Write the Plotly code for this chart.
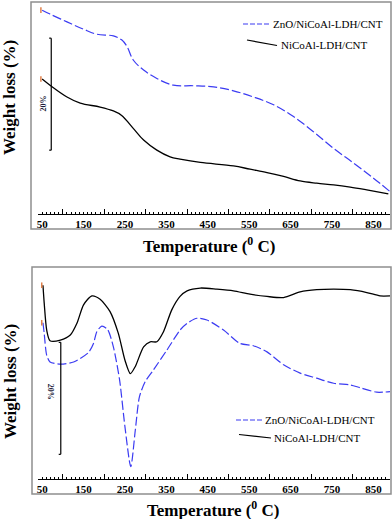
import plotly.graph_objects as go

# ---------------- data (y in % units, arbitrary offset) -------------
top_T_ncl = [50, 69, 110, 142, 190, 222, 242, 270, 295, 327, 359, 383, 432, 512, 552, 593,
             633, 673, 713, 754, 794, 834, 886]
top_W_ncl = [24.1, 23.0, 20.9, 19.8, 19.1, 18.4, 17.6, 15.3, 13.2, 11.4, 10.2, 9.8, 9.2, 8.6,
             8.0, 7.4, 6.7, 5.9, 5.5, 5.2, 4.8, 4.3, 3.6]

top_T_zno = [50, 69, 110, 150, 182, 222, 242, 255, 270, 295, 327, 367, 415, 464, 512, 560,
             609, 657, 705, 754, 802, 850, 890]
top_W_zno = [36.4, 35.7, 34.3, 33.0, 32.1, 31.8, 31.1, 29.9, 27.5, 25.7, 24.2, 23.0, 22.9,
             22.7, 22.0, 20.9, 19.5, 17.4, 14.7, 11.7, 9.1, 6.4, 4.0]

bot_T_ncl = [52, 55, 61, 69, 94, 118, 134, 150, 170, 190, 214, 234, 250, 263, 275, 295, 311,
             327, 343, 363, 383, 400, 432, 472, 512, 552, 593, 633, 673, 713, 754, 794, 834,
             866, 890]
bot_W_ncl = [34.6, 31.4, 26.6, 24.7, 24.8, 25.7, 27.8, 31.1, 32.7, 32.1, 29.9, 26.0, 21.2,
             18.8, 20.1, 23.6, 24.5, 24.5, 26.3, 30.2, 32.6, 33.6, 34.1, 33.9, 33.6, 33.0,
             32.6, 32.4, 33.4, 33.8, 33.9, 33.8, 33.3, 32.7, 32.7]

bot_T_zno = [52, 55, 61, 69, 94, 126, 162, 174, 182, 194, 208, 222, 237, 250, 264, 275, 285,
             299, 319, 351, 383, 400, 424, 448, 488, 528, 560, 593, 633, 673, 713, 754, 794,
             818, 858, 890]
bot_W_zno = [27.9, 26.0, 22.1, 20.9, 20.5, 20.9, 22.6, 24.2, 26.3, 27.3, 26.7, 23.6, 17.7,
             9.3, 2.2, 8.75, 14.7, 17.4, 19.5, 23.0, 26.6, 27.8, 28.7, 28.4, 26.6, 24.2,
             23.8, 22.7, 20.4, 18.9, 18.0, 17.1, 16.8, 16.3, 15.5, 15.6]

tick_labels = [50, 150, 250, 350, 450, 550, 650, 750, 850]
series_names = ["ZnO/NiCoAl-LDH/CNT", "NiCoAl-LDH/CNT"]
scale_label = "20%"
scale_size = 20
x_title = "Temperature (<sup>0</sup> C)"
y_title = "Weight loss (%)"

# ---------------- layout helpers ----------------
W, H = 392, 519
def PX(p):
    return p / W
def PY(p):
    return 1 - p / H

SERIF = "Liberation Serif"
BLUE = "#3b3bf2"
YR = [0, 212 / 5.6]
XR = [40, 890]

fig = go.Figure()

def add_curves(xa, ya, Tz, Wz, Tn, Wn, sm):
    fig.add_trace(go.Scatter(x=Tz, y=Wz, mode="lines", xaxis=xa, yaxis=ya,
                             line=dict(color=BLUE, width=1.2, dash="9px,3px",
                                       shape="spline", smoothing=sm),
                             showlegend=False, hoverinfo="skip"))
    fig.add_trace(go.Scatter(x=Tn, y=Wn, mode="lines", xaxis=xa, yaxis=ya,
                             line=dict(color="black", width=1.3, shape="spline",
                                       smoothing=sm),
                             showlegend=False, hoverinfo="skip"))
    # small orange start marks
    fig.add_trace(go.Scatter(x=[Tz[0] - 3, Tn[0] - 3], y=[Wz[0], Wn[0]], mode="markers",
                             xaxis=xa, yaxis=ya,
                             marker=dict(symbol="line-ns", size=4,
                                         line=dict(color="#e0804a", width=1.5)),
                             showlegend=False, hoverinfo="skip"))

add_curves("x", "y", top_T_zno, top_W_zno, top_T_ncl, top_W_ncl, 1.0)
add_curves("x2", "y2", bot_T_zno, bot_W_zno, bot_T_ncl, bot_W_ncl, 0.7)
# dummy traces so the tick-only overlay axes are drawn
fig.add_trace(go.Scatter(x=[None], y=[None], xaxis="x3", yaxis="y", showlegend=False))
fig.add_trace(go.Scatter(x=[None], y=[None], xaxis="x4", yaxis="y2", showlegend=False))

dom_x = [PX(38), PX(390)]
label_axis = dict(domain=dom_x, range=XR, tickmode="array", tickvals=tick_labels,
                  ticktext=[str(v) for v in tick_labels], ticks="", showgrid=False,
                  zeroline=False, showline=True, linecolor="black", linewidth=1,
                  tickfont=dict(family=SERIF, size=11, color="black", weight="bold"))
tick_axis = dict(range=XR, tickmode="linear", tick0=0, dtick=100, ticks="inside",
                 ticklen=5, tickwidth=1, tickcolor="black", showticklabels=False,
                 showgrid=False, zeroline=False, showline=False,
                 minor=dict(tickmode="linear", tick0=0, dtick=10, ticks="inside",
                            ticklen=2, tickwidth=1, tickcolor="black", showgrid=False))

fig.update_layout(
    width=W, height=H, margin=dict(l=0, r=0, t=0, b=0),
    paper_bgcolor="white", plot_bgcolor="rgba(0,0,0,0)",
    xaxis=dict(anchor="y", **label_axis),
    xaxis2=dict(anchor="y2", **label_axis),
    xaxis3=dict(overlaying="x", anchor="y", **tick_axis),
    xaxis4=dict(overlaying="x2", anchor="y2", **tick_axis),
    yaxis=dict(domain=[PY(214), PY(2)], range=YR, visible=False, anchor="x"),
    yaxis2=dict(domain=[PY(479), PY(267)], range=YR, visible=False, anchor="x2"),
)

shapes = []
annotations = []

# frames
for (x0, y0, x1, y1) in [(31, 2, 391, 229), (32, 267, 391, 494)]:
    shapes.append(dict(type="rect", xref="paper", yref="paper", x0=PX(x0), x1=PX(x1),
                       y0=PY(y1), y1=PY(y0), line=dict(color="#8f8f8f", width=1.5)))

# scale bars (20 % of weight)
for xa, ya, xb, ytop, ang, lx, ly in [("x", "y", 72, 31.4, -90, 53, 19.8),
                                      ("x2", "y2", 95, 24.4, 90, 69, 15.6)]:
    ybot = ytop - scale_size
    shapes.append(dict(type="line", xref=xa, yref=ya, x0=xb, x1=xb, y0=ybot, y1=ytop,
                       line=dict(color="black", width=1.2)))
    for yy in (ybot, ytop):
        shapes.append(dict(type="line", xref=xa, yref=ya, x0=xb - 5, x1=xb, y0=yy, y1=yy,
                           line=dict(color="black", width=1.2)))
    annotations.append(dict(xref=xa, yref=ya, x=lx, y=ly, text=scale_label,
                            showarrow=False, textangle=ang,
                            font=dict(family=SERIF, size=8, color="#1c1c3a", weight="bold")))

# legends (drawn in pixel positions)
for (bx0, by0, bx1, by1, tx, ty), (kx0, ky0, kx1, ky1, ux, uy) in [
        ((243, 24, 271, 24, 271, 24), (247, 40, 277, 45.5, 279, 44.5)),
        ((236, 420, 263, 420, 263, 420), (239, 434.5, 271, 438, 272, 438))]:
    shapes.append(dict(type="line", xref="paper", yref="paper", x0=PX(bx0), x1=PX(bx1),
                       y0=PY(by0), y1=PY(by1),
                       line=dict(color=BLUE, width=1.2, dash="5px,2px")))
    shapes.append(dict(type="line", xref="paper", yref="paper", x0=PX(kx0), x1=PX(kx1),
                       y0=PY(ky0), y1=PY(ky1), line=dict(color="black", width=1.2)))
    annotations.append(dict(xref="paper", yref="paper", x=PX(tx), y=PY(ty), xanchor="left",
                            yanchor="middle", text=series_names[0], showarrow=False,
                            font=dict(family=SERIF, size=11, color="black")))
    annotations.append(dict(xref="paper", yref="paper", x=PX(ux), y=PY(uy), xanchor="left",
                            yanchor="middle", text=series_names[1], showarrow=False,
                            font=dict(family=SERIF, size=11, color="black")))

# axis titles
for cx, cy in [(209, 245), (213, 509)]:
    annotations.append(dict(xref="paper", yref="paper", x=PX(cx), y=PY(cy),
                            xanchor="center", yanchor="middle", text=x_title,
                            showarrow=False,
                            font=dict(family=SERIF, size=17, color="black", weight="bold")))
for cx, cy in [(10, 98), (10, 382)]:
    annotations.append(dict(xref="paper", yref="paper", x=PX(cx), y=PY(cy),
                            xanchor="center", yanchor="middle", text=y_title,
                            showarrow=False, textangle=-90,
                            font=dict(family=SERIF, size=17, color="black", weight="bold")))

fig.update_layout(shapes=shapes, annotations=annotations)
fig.write_html(
    "out.html",
    config={"displayModeBar": False, "staticPlot": True},
    post_script="document.body.style.margin='0';document.body.style.overflow='hidden';",
)
